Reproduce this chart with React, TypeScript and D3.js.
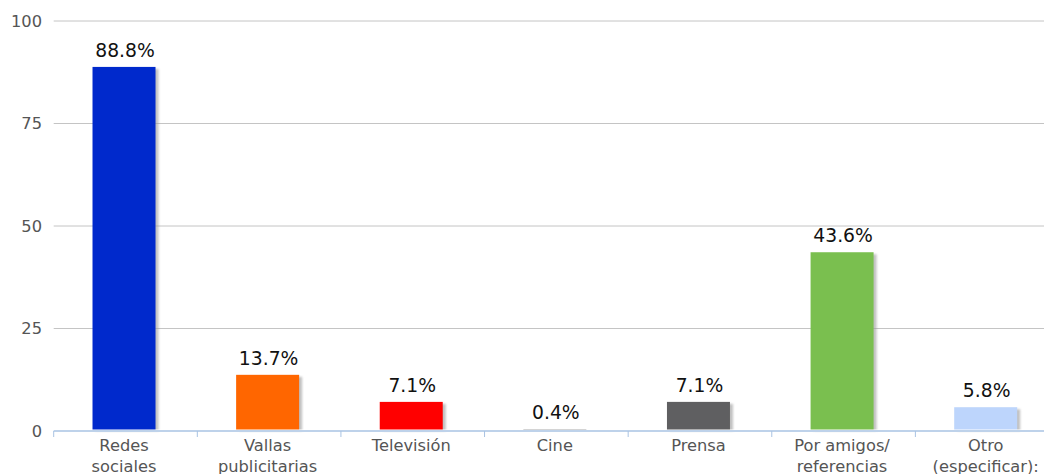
import React from 'react';
import * as d3 from 'd3';

const categories = [
  ['Redes', 'sociales'],
  ['Vallas', 'publicitarias'],
  ['Televisión'],
  ['Cine'],
  ['Prensa'],
  ['Por amigos/', 'referencias'],
  ['Otro', '(especificar):'],
];
const values = [88.8, 13.7, 7.1, 0.4, 7.1, 43.6, 5.8];
const colors = ['#0029cc', '#ff6600', '#ff0000', '#7a7a7a', '#5f5f61', '#7abf4f', '#bdd5fc'];
const yTicks = [0, 25, 50, 75, 100];

const W = 1044;
const H = 474;
const left = 53.7;
const right = 1059;
const top = 21;
const bottom = 431;

const App = () => {
  const x = d3
    .scaleBand<number>()
    .domain(d3.range(categories.length))
    .range([left, right])
    .paddingInner(0)
    .paddingOuter(0);
  const y = d3.scaleLinear().domain([0, 100]).range([bottom, top]);
  const bw = x.bandwidth();
  const barW = 63;
  const font = 'DejaVu Sans, sans-serif';

  return (
    <svg width={W} height={H} style={{ position: 'absolute', left: 0, top: 0 }}>
      <defs>
        <filter id="sh" x="-20%" y="-20%" width="150%" height="150%">
          <feGaussianBlur stdDeviation="0.8" />
        </filter>
      </defs>
      {/* grid */}
      {yTicks.map((t) => (
        <g key={t}>
          {t > 0 && (
            <line x1={left} x2={right} y1={y(t)} y2={y(t)} stroke="#c4c4c4" strokeWidth={1} />
          )}
          <text
            x={42}
            y={y(t)}
            dy="0.35em"
            textAnchor="end"
            fontFamily={font}
            fontSize={16.25}
            fill="#555"
          >
            {t}
          </text>
        </g>
      ))}
      {/* bars */}
      {values.map((v, i) => {
        const bx = (x(i) as number) + (bw - barW) / 2 - 1.5;
        const by = y(v);
        const h = bottom - by;
        return (
          <g key={i}>
            <rect x={bx + 3} y={by + 2} width={barW} height={Math.max(h - 2, 0)} fill="#999" opacity={0.6} filter="url(#sh)" />
            <rect x={bx} y={by} width={barW} height={h} fill={colors[i]} />
            <text
              x={bx + barW / 2 + 1}
              y={by - 10}
              textAnchor="middle"
              fontFamily={font}
              fontSize={18.75}
              fill="#111"
            >
              {v.toFixed(1)}%
            </text>
          </g>
        );
      })}
      {/* x axis */}
      <rect x={left} y={429.5} width={right - left} height={2.5} fill="#fff" />
      <line x1={left} x2={right} y1={431} y2={431} stroke="#a9c3e3" strokeWidth={1.5} />
      {d3.range(categories.length + 1).map((i) => {
        const tx = left + i * bw;
        return <line key={i} x1={tx} x2={tx} y1={bottom} y2={bottom + 6} stroke="#a9c3e3" strokeWidth={1} />;
      })}
      {categories.map((c, i) => (
        <text
          key={i}
          x={(x(i) as number) + bw / 2 - 1.5}
          textAnchor="middle"
          fontFamily={font}
          fontSize={16.25}
          fill="#555"
        >
          {c.map((line, j) => (
            <tspan key={j} x={(x(i) as number) + bw / 2 - 1.5} y={451 + j * 21}>
              {line}
            </tspan>
          ))}
        </text>
      ))}
    </svg>
  );
};

export default App;
